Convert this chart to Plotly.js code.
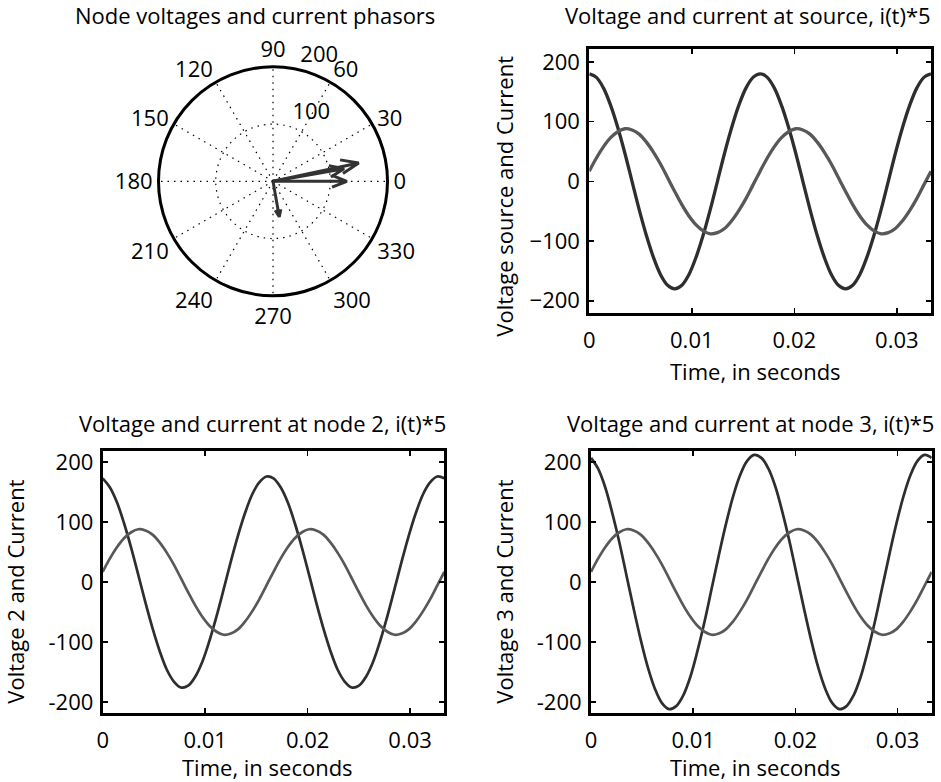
<!DOCTYPE html>
<html>
<head>
<meta charset="utf-8">
<script src="https://cdn.plot.ly/plotly-3.0.1.min.js"></script>
<style>html,body{margin:0;padding:0;background:#fff;}#chart{width:941px;height:782px;}</style>
</head>
<body>
<div id="chart"></div>
<script>
// ---------- data ----------
// time samples (s), two cycles of 60 Hz
const timeS = [0, 0.000694, 0.001389, 0.002083, 0.002778, 0.003472, 0.004167, 0.004861, 0.005556, 0.00625,
  0.006944, 0.007639, 0.008333, 0.009028, 0.009722, 0.010417, 0.011111, 0.011806, 0.0125, 0.013194,
  0.013889, 0.014583, 0.015278, 0.015972, 0.016667, 0.017361, 0.018056, 0.01875, 0.019444, 0.020139,
  0.020833, 0.021528, 0.022222, 0.022917, 0.023611, 0.024306, 0.025, 0.025694, 0.026389, 0.027083,
  0.027778, 0.028472, 0.029167, 0.029861, 0.030556, 0.03125, 0.031944, 0.032639, 0.033333];

// source voltage
const vSource = [180, 174, 156, 127, 90, 47, 0, -47, -90, -127, -156, -174, -180, -174, -156, -127, -90, -47, 0, 47, 90, 127, 156, 174, 180,
  174, 156, 127, 90, 47, 0, -47, -90, -127, -156, -174, -180, -174, -156, -127, -90, -47, 0, 47, 90, 127, 156, 174, 180];
// current * 5 (same in all three panels)
const iTimes5 = [17, 39, 58, 73, 83, 88, 86, 79, 66, 49, 29, 6, -17, -39, -58, -73, -83, -88, -86, -79, -66, -49, -29, -6, 17,
  39, 58, 73, 83, 88, 86, 79, 66, 49, 29, 6, -17, -39, -58, -73, -83, -88, -86, -79, -66, -49, -29, -6, 17];
// node 2 voltage
const vNode2 = [173, 158, 133, 98, 57, 12, -34, -77, -115, -146, -166, -176, -173, -158, -133, -98, -57, -12, 34, 77, 115, 146, 166, 176, 173,
  158, 133, 98, 57, 12, -34, -77, -115, -146, -166, -176, -173, -158, -133, -98, -57, -12, 34, 77, 115, 146, 166, 176, 173];
// node 3 voltage
const vNode3 = [207, 189, 158, 115, 66, 11, -44, -96, -142, -178, -202, -212, -207, -189, -158, -115, -66, -11, 44, 96, 142, 178, 202, 212, 207,
  189, 158, 115, 66, 11, -44, -96, -142, -178, -202, -212, -207, -189, -158, -115, -66, -11, 44, 96, 142, 178, 202, 212, 207];

// phasors (magnitude, angle in degrees)
const phasorNames = ['Source voltage', 'Node 2 voltage', 'Node 3 voltage', 'Current*5'];
const phasorMag = [129, 126, 153, 63];
const phasorAng = [0, 10, 12, -80];

// tick labels
const xTickVals = [0, 0.01, 0.02, 0.03];
const yTickVals = [-200, -100, 0, 100, 200];
const yTickTextSource = ['\u2212200', '\u2212100', '0', '100', '200'];
const yTickTextNode = ['-200', '-100', '0', '100', '200'];
const angTickVals = [0, 30, 60, 90, 120, 150, 180, 210, 240, 270, 300, 330];
const angTickText = ['0', '30', '60', '90', '120', '150', '180', '210', '240', '270', '300', '330'];
const ringVals = [100, 200];
const ringText = ['100', '200'];

const titles = ['Node voltages and current phasors', 'Voltage and current at source, i(t)*5',
  'Voltage and current at node 2, i(t)*5', 'Voltage and current at node 3, i(t)*5'];
const xTitle = 'Time, in seconds';
const yTitles = ['Voltage source and Current', 'Voltage 2 and Current', 'Voltage 3 and Current'];

// ---------- styling ----------
const W = 941, H = 782;
const FONT = 'Open Sans, Noto Sans, DejaVu Sans, sans-serif';
const FS = 22;
const vColor = '#2e2e2e', iColor = '#585858';
const px = x => x / W;
const py = y => 1 - y / H;

const traces = [];

// phasor arrows (MATLAB compass style: head back to 0.8 length, +/-0.08 wide)
const headR = Math.hypot(0.8, 0.08), headA = Math.atan2(0.08, 0.8) * 180 / Math.PI;
phasorMag.forEach((m, k) => {
  const a = phasorAng[k];
  traces.push({
    type: 'scatterpolar', mode: 'lines', name: phasorNames[k],
    r: [0, m, m * headR, m, m * headR],
    theta: [a, a, a + headA, a, a - headA],
    line: {color: '#333333', width: 3}, hoverinfo: 'name', showlegend: false, subplot: 'polar'
  });
});
// ring labels (placed like MATLAB: leading space, bottom-left at ring, 82 degrees)
traces.push({
  type: 'scatterpolar', mode: 'text', r: ringVals, theta: ringVals.map(() => 82),
  text: ringText.map(s => '\u00a0\u00a0' + s), textposition: 'top right', cliponaxis: false,
  textfont: {family: FONT, size: FS, color: 'black'}, hoverinfo: 'skip', showlegend: false, subplot: 'polar'
});

const panels = [
  {v: vSource, xa: 'x', ya: 'y', w: 3.3},
  {v: vNode2, xa: 'x2', ya: 'y2', w: 2.7},
  {v: vNode3, xa: 'x3', ya: 'y3', w: 2.7}
];
panels.forEach(p => {
  traces.push({type: 'scatter', mode: 'lines', x: timeS, y: p.v, xaxis: p.xa, yaxis: p.ya,
    line: {color: vColor, width: p.w, shape: 'spline', smoothing: 1}, showlegend: false});
  traces.push({type: 'scatter', mode: 'lines', x: timeS, y: iTimes5, xaxis: p.xa, yaxis: p.ya,
    line: {color: iColor, width: p.w, shape: 'spline', smoothing: 1}, showlegend: false});
});

function xAxis(dom, anchor) {
  return {domain: dom, anchor: anchor, range: [0, timeS[timeS.length - 1]], tickmode: 'array', tickvals: xTickVals,
    showline: true, mirror: 'allticks', linewidth: 3, linecolor: 'black', ticks: 'inside', ticklen: 5, tickwidth: 1.5,
    tickcolor: 'black', showgrid: false, zeroline: false, ticklabelstandoff: 5,
    tickfont: {family: FONT, size: FS, color: 'black'}};
}
function yAxis(dom, anchor, rng, text) {
  return {domain: dom, anchor: anchor, range: rng, tickmode: 'array', tickvals: yTickVals, ticktext: text,
    showline: true, mirror: 'allticks', linewidth: 3, linecolor: 'black', ticks: 'inside', ticklen: 5, tickwidth: 1.5,
    tickcolor: 'black', showgrid: false, zeroline: false, ticklabelstandoff: 2,
    tickfont: {family: FONT, size: FS, color: 'black'}};
}

const ann = (text, x, y, angle) => ({text: text, x: px(x), y: py(y), xref: 'paper', yref: 'paper',
  xanchor: 'center', yanchor: 'middle', showarrow: false, textangle: angle || 0,
  font: {family: FONT, size: FS, color: 'black'}});

const layout = {
  width: W, height: H, margin: {l: 0, r: 0, t: 0, b: 0}, paper_bgcolor: 'white', plot_bgcolor: 'white',
  showlegend: false, font: {family: FONT, size: FS, color: 'black'},
  polar: {
    domain: {x: [px(158.5), px(387.5)], y: [py(295.8), py(66.8)]},
    bgcolor: 'white',
    angularaxis: {rotation: 0, direction: 'counterclockwise', tickmode: 'array', tickvals: angTickVals, ticktext: angTickText,
      showline: true, linecolor: 'black', linewidth: 3, showgrid: true, gridcolor: 'black', griddash: '1.5px,5px', gridwidth: 1.2,
      ticks: '', tickfont: {family: FONT, size: FS, color: 'black'}},
    radialaxis: {range: [0, 200], tickmode: 'array', tickvals: ringVals, showticklabels: false, showline: false, ticks: '',
      showgrid: true, gridcolor: 'black', griddash: '1.5px,5px', gridwidth: 1.2}
  },
  xaxis: xAxis([px(589.3), px(931)], 'y'),
  yaxis: yAxis([py(313.3), py(49.3)], 'x', [-221, 221], yTickTextSource),
  xaxis2: xAxis([px(102.7), px(444.3)], 'y2'),
  yaxis2: yAxis([py(713.3), py(450.7)], 'x2', [-219, 219], yTickTextNode),
  xaxis3: xAxis([px(591), px(931.7)], 'y3'),
  yaxis3: yAxis([py(713.3), py(450.7)], 'x3', [-219, 219], yTickTextNode),
  annotations: [
    ann(titles[0], 254.7, 15), ann(titles[1], 747.5, 15), ann(titles[2], 262, 423), ann(titles[3], 750, 423),
    ann(xTitle, 755, 371), ann(xTitle, 267.5, 767), ann(xTitle, 755, 767),
    ann(yTitles[0], 504, 195.7, -90), ann(yTitles[1], 15, 591.7, -90), ann(yTitles[2], 504, 591.7, -90)
  ]
};

Plotly.newPlot('chart', traces, layout, {displayModeBar: false, staticPlot: true});
</script>
</body>
</html>
